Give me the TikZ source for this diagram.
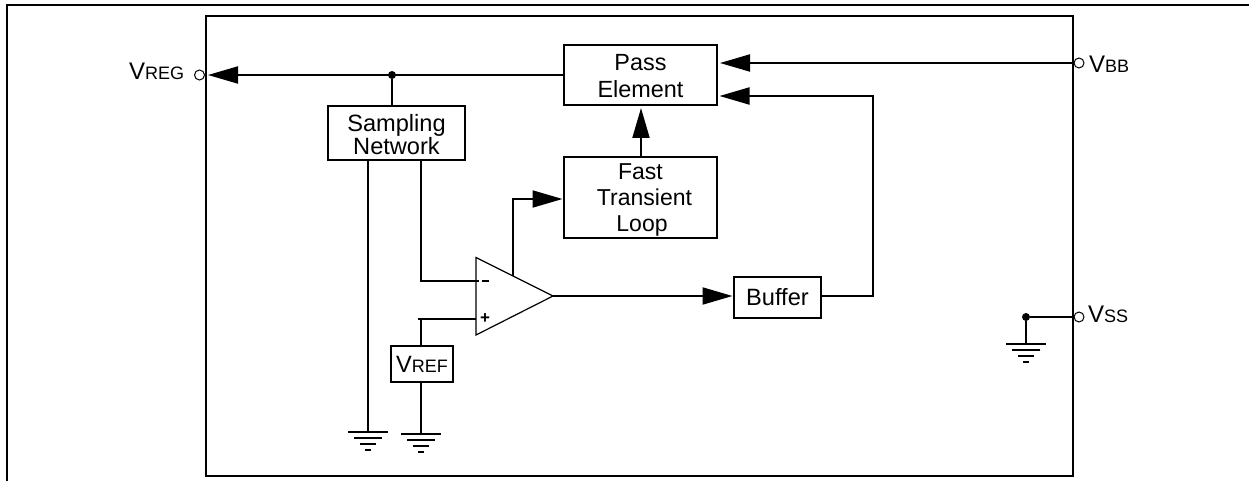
\documentclass[tikz,border=0pt]{standalone}
\usepackage{fontspec}
\setmainfont{Liberation Sans}
\usetikzlibrary{arrows.meta,calc}
\newcommand{\labelfont}{\fontsize{23.6}{23}\selectfont}
\newcommand{\smallcap}[1]{{\fontsize{18}{18}\selectfont #1}}
\tikzset{
  x=1pt,y=-1pt,
  wire/.style={line width=2pt,line cap=butt,line join=miter},
  arrowwire/.style={wire,-{Triangle[length=30pt,width=17pt]},shorten >=1.5pt},
  blockbox/.style={draw,line width=2pt,inner sep=0pt,align=center,font=\labelfont,fill=white},
  frame/.style={line width=2pt},
  pinlabel/.style={inner sep=0pt,font=\fontsize{24}{24}\selectfont,anchor=base west},
  junction/.style={circle,fill=black,inner sep=0pt,minimum size=8pt},
  pinring/.style={circle,draw,line width=1pt,fill=white,inner sep=0pt,minimum size=10pt},
  opsign/.style={inner sep=0pt,font=\bfseries\fontsize{17}{17}\selectfont},
  gnd/.pic={
    \draw[wire] (-20,0) -- (20,0) (-14,6) -- (14,6) (-8,12) -- (8,12) (-3,18) -- (3,18);
  }
}
\begin{document}
\begin{tikzpicture}
\useasboundingbox (0,0) rectangle (1249,481);
\draw[frame] (7,481) -- (7,5) -- (1249,5);
\draw[frame] (206,16) rectangle (1073,476);

% blocks
\node[blockbox,minimum width=153pt,minimum height=60pt,font=\fontsize{23.4}{27}\selectfont] (pass) at (640.5,75) {\rule{0pt}{19pt}Pass\\Element};
\node[blockbox,minimum width=153pt,minimum height=81pt,font=\fontsize{23}{26}\selectfont] (fast) at (640.5,197.5) {\rule{0pt}{20.5pt}Fast\\\hspace*{8pt}Transient\\\hspace*{3pt}Loop};
\node[blockbox,minimum width=137pt,minimum height=54pt] (samp) at (396.5,133) {\rule{0pt}{19.5pt}Sampling\\Network};
\node[blockbox,minimum width=87pt,minimum height=41pt] (buf) at (777.5,297.5) {Buffer};
\node[blockbox,minimum width=62pt,minimum height=36pt] (vref) at (422,364) {V\smallcap{REF}};

% op amp
\coordinate (optl) at (476,257.5);
\coordinate (opbl) at (476,335);
\coordinate (optip) at (553,296);
\coordinate (opminus) at (479,281);
\coordinate (opplus) at (476,319);
\coordinate (opup) at (513,276);
\draw[line width=1.2pt,line join=miter] (optl) -- (optip) -- (opbl) -- cycle;
\node[opsign] (minus) at (485.5,281) {\rule{7.5pt}{2pt}};
\node[opsign] (plus) at (485,319) {+};

% pins
\node[pinring] (vregpin) at (199.5,75) {};
\node[pinring] (vbbpin) at (1079,63) {};
\node[pinring] (vsspin) at (1079,317) {};
\node[pinlabel] (vreglabel) at (129,79.5) {V\smallcap{REG}};
\node[pinlabel] (vbblabel) at (1089,72.5) {V\smallcap{BB}};
\node[pinlabel] (vsslabel) at (1088,322) {V\smallcap{SS}};

% junctions
\node[junction] (jreg) at (392,75) {};
\node[junction] (jss) at (1026,317) {};

% helper points
\coordinate (gA) at (368,432);
\coordinate (gB) at (421,434);
\coordinate (gC) at (1026,344);
\coordinate (vregend) at (206.5,75);
\coordinate (bbpass) at (718.5,63);
\coordinate (bbpin) at (1073,63);
\coordinate (fbpass) at (718,96);
\coordinate (fbcorner) at (873,96);
\coordinate (fbbuf) at (873,296);
\coordinate (fastin) at (564,199);
\coordinate (upfrom) at (641,157);
\coordinate (upto) at (641,106.5);
\coordinate (bufin) at (734,296);

% connectors
\draw[arrowwire] (pass.west) -- (vregend);
\draw[wire] (jreg) -- (jreg |- samp.north);
\draw[arrowwire] (bbpin) -- (bbpass);
\draw[arrowwire] (buf.east |- fbbuf) -- (fbbuf) -- (fbcorner) -- (fbpass);
\draw[arrowwire] (upfrom) -- (upto);
\draw[arrowwire] (opup) |- (fastin);
\draw[arrowwire] (optip) -- (bufin);
\draw[wire] (gA) -- (gA |- samp.south);
\draw[wire] (opminus) -| (421,160);
\draw[wire] (opplus) -- (418,319);
\draw[wire] (421,319) -- (421,346);
\draw[wire] (421,382) -- (gB);
\draw[wire] (jss) -- (gC);
\draw[wire] (jss) -- (1073,317);

\pic at (gA) {gnd};
\pic at (gB) {gnd};
\pic at (gC) {gnd};
\end{tikzpicture}
\end{document}
